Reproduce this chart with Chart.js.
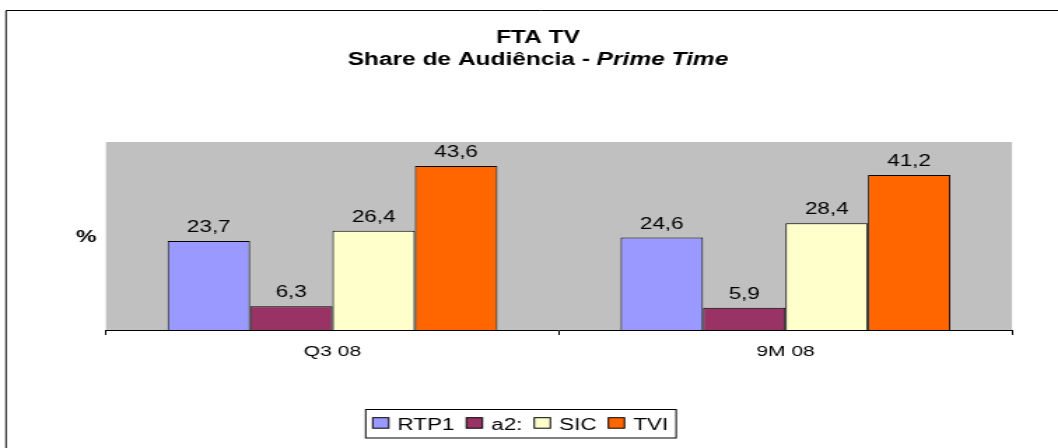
<!DOCTYPE html>
<html>
<head>
<meta charset="utf-8">
<script src="https://cdn.jsdelivr.net/npm/chart.js@4/dist/chart.umd.min.js"></script>
<style>
  html, body { margin: 0; padding: 0; background: #fff; overflow: hidden; width: 1058px; height: 448px; }
  #wrap { position: absolute; left: 0; top: 0; width: 769px; height: 448px; transform: scaleX(1.3995); transform-origin: 0 0; }
  canvas { display: block; }
</style>
</head>
<body>
<div id="wrap"><canvas id="c" width="769" height="448" style="width:769px;height:448px"></canvas></div>
<script>
// ---- data ----
const categories = ['Q3 08', '9M 08'];
const seriesNames = ['RTP1', 'a2:', 'SIC', 'TVI'];
const rtp1 = [23.7, 24.6];
const a2 = [6.3, 5.9];
const sic = [26.4, 28.4];
const tvi = [43.6, 41.2];
const titleLine1 = 'FTA TV';
const titleLine2a = 'Share de Audiência - ';
const titleLine2b = 'Prime Time';
const yAxisLabel = '%';

const colors = ['#9999FF', '#993366', '#FFFFCC', '#FF6600'];
const FONT = '"Liberation Sans", Arial, Helvetica, sans-serif';
const seriesValues = [rtp1, a2, sic, tvi];

const decorPlugin = {
  id: 'decor',
  beforeDraw(chart) {
    const ctx = chart.ctx, ca = chart.chartArea;
    ctx.save();
    ctx.fillStyle = '#ffffff';
    ctx.fillRect(0, 0, chart.width, chart.height);
    // plot background
    ctx.fillStyle = '#C0C0C0';
    ctx.fillRect(ca.left, ca.top, ca.right - ca.left, ca.bottom - ca.top);
    // outer frame (left and top edges)
    ctx.strokeStyle = '#000';
    ctx.lineWidth = 1;
    ctx.beginPath();
    ctx.moveTo(4.3, 448);
    ctx.lineTo(4.3, 10.5);
    ctx.lineTo(chart.width, 10.5);
    ctx.stroke();
    ctx.restore();
  },
  afterDraw(chart) {
    const ctx = chart.ctx;
    ctx.save();
    ctx.fillStyle = '#000';
    // titles
    const cx = 384.4;
    ctx.textBaseline = 'alphabetic';
    ctx.textAlign = 'center';
    ctx.font = 'bold 17.5px ' + FONT;
    ctx.fillText(titleLine1, cx, 43);
    ctx.font = 'bold 17.5px ' + FONT;
    const wa = ctx.measureText(titleLine2a).width;
    ctx.font = 'italic bold 17.5px ' + FONT;
    const wb = ctx.measureText(titleLine2b).width;
    const sx = cx - (wa + wb) / 2;
    ctx.textAlign = 'left';
    ctx.font = 'bold 17.5px ' + FONT;
    ctx.fillText(titleLine2a, sx, 65);
    ctx.font = 'italic bold 17.5px ' + FONT;
    ctx.fillText(titleLine2b, sx + wa, 65);
    // y axis label
    ctx.textAlign = 'center';
    ctx.textBaseline = 'middle';
    ctx.font = 'bold 16.5px ' + FONT;
    ctx.fillText(yAxisLabel, 61.7, 237);
    // data labels
    ctx.font = '16px ' + FONT;
    ctx.textBaseline = 'alphabetic';
    chart.data.datasets.forEach((ds, i) => {
      const meta = chart.getDatasetMeta(i);
      meta.data.forEach((bar, j) => {
        const v = ds.data[j];
        ctx.fillText(v.toFixed(1).replace('.', ','), bar.x, bar.y - 9);
      });
    });
    // legend
    ctx.font = '16px ' + FONT;
    const swW = 11.5, swH = 10.5, gapText = 6.3, gapItem = 8.5;
    let x = 266.3;
    const boxLeft = x - 5;
    const textY = 429.5;
    ctx.textAlign = 'left';
    seriesNames.forEach((name, i) => {
      ctx.fillStyle = colors[i];
      ctx.fillRect(x, 417.7, swW, swH);
      ctx.strokeStyle = '#000';
      ctx.lineWidth = 1;
      ctx.strokeRect(x, 417.7, swW, swH);
      x += swW + gapText;
      ctx.fillStyle = '#000';
      ctx.fillText(name, x, textY);
      x += ctx.measureText(name).width + (i < seriesNames.length - 1 ? gapItem : 0);
    });
    const boxRight = x + 5.7;
    ctx.strokeStyle = '#000';
    ctx.lineWidth = 1;
    ctx.strokeRect(boxLeft, 409.5, boxRight - boxLeft, 28.5);
    ctx.restore();
  }
};

new Chart(document.getElementById('c'), {
  type: 'bar',
  data: {
    labels: categories,
    datasets: seriesNames.map((name, i) => ({
      label: name,
      data: seriesValues[i],
      backgroundColor: colors[i],
      borderColor: '#000',
      borderWidth: 1,
      borderSkipped: 'bottom',
      barPercentage: 1.0,
      categoryPercentage: 0.728
    }))
  },
  options: {
    responsive: false,
    animation: false,
    devicePixelRatio: 1,
    layout: { padding: { left: 75.7, right: 45.9, top: 142, bottom: 78 } },
    plugins: {
      legend: { display: false },
      title: { display: false },
      tooltip: { enabled: false }
    },
    scales: {
      x: {
        afterFit(scale) { scale.height = 40; },
        grid: { display: true, drawOnChartArea: false, drawTicks: true, tickLength: 5, color: '#000', offset: true },
        border: { display: true, color: '#000', width: 1 },
        ticks: { color: '#000', font: { family: FONT, size: 15 }, padding: 8 }
      },
      y: {
        display: false,
        min: 0,
        max: 50
      }
    }
  },
  plugins: [decorPlugin]
});
</script>
</body>
</html>
